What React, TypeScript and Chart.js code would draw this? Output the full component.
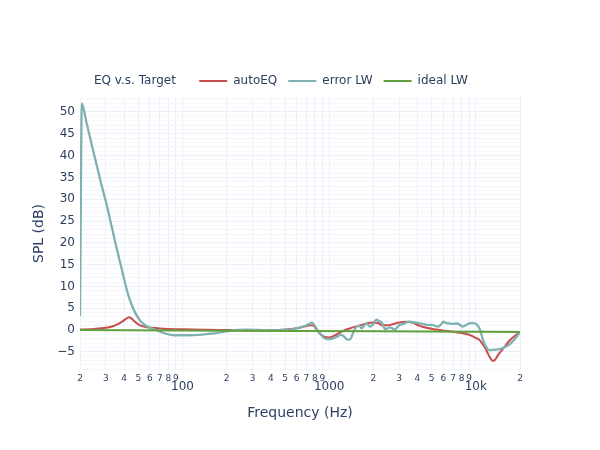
import React, { useEffect, useRef } from 'react';
import { Chart, registerables } from 'chart.js';

Chart.register(...registerables);

// ---- data ----
const AUTOEQ_FREQ = [20, 25, 30, 33, 36, 39, 41, 43.3, 45, 47, 50, 53, 57, 62, 70, 80, 100, 150, 200, 300, 400, 500, 600, 680, 740, 780, 820, 870, 920, 1000, 1100, 1200, 1300, 1450, 1600, 1800, 2000, 2150, 2300, 2500, 2700, 3000, 3300, 3700, 4100, 4600, 5400, 6200, 7000, 8000, 9000, 10000, 10500, 11000, 11600, 12200, 12700, 13100, 13600, 14200, 15400, 17000, 18500, 20000];
const AUTOEQ_DB = [0.1, 0.25, 0.5, 0.8, 1.3, 2.0, 2.5, 2.9, 2.6, 2.0, 1.3, 0.9, 0.65, 0.5, 0.35, 0.25, 0.15, 0.05, 0.0, -0.1, -0.1, 0.1, 0.4, 0.8, 1.1, 1.0, 0.1, -0.9, -1.5, -1.7, -1.2, -0.5, 0.1, 0.6, 1.0, 1.5, 1.7, 1.6, 1.1, 1.1, 1.3, 1.7, 1.9, 1.7, 1.0, 0.5, 0.1, -0.2, -0.4, -0.7, -1.1, -1.8, -2.2, -3.0, -4.2, -5.7, -6.7, -7.1, -6.7, -5.7, -4.2, -2.4, -1.3, -0.5];

const ERROR_FREQ = [20, 20.6, 22, 24, 26, 28, 30, 33, 36, 39, 42, 45, 48, 51, 55, 60, 66, 72, 78, 85, 95, 110, 130, 150, 170, 200, 240, 280, 330, 400, 470, 550, 620, 680, 730, 760, 790, 830, 870, 920, 980, 1060, 1150, 1210, 1270, 1340, 1400, 1460, 1540, 1600, 1660, 1730, 1800, 1900, 2000, 2100, 2200, 2300, 2400, 2500, 2600, 2800, 3000, 3200, 3500, 3900, 4300, 4600, 5100, 5500, 5800, 6000, 6300, 6600, 7000, 7400, 7800, 8100, 8500, 9000, 9500, 9900, 10300, 10700, 11200, 11800, 12300, 13500, 14500, 15500, 17000, 18500, 20000];
const ERROR_DB = [3.2, 52.0, 48.0, 42.6, 37.8, 33.3, 29.5, 23.5, 18.0, 13.2, 8.8, 5.8, 3.7, 2.3, 1.2, 0.5, 0.0, -0.5, -0.9, -1.15, -1.2, -1.2, -1.1, -0.9, -0.7, -0.3, 0.0, 0.1, 0.0, -0.1, 0.0, 0.1, 0.5, 0.9, 1.4, 1.7, 1.2, 0.0, -0.9, -1.8, -2.1, -1.9, -1.4, -1.1, -1.6, -2.2, -2.0, -0.5, 0.8, 1.0, 0.4, 1.0, 1.5, 0.8, 1.4, 2.4, 2.0, 1.6, 0.2, 0.4, 0.6, 0.1, 1.1, 1.4, 1.9, 1.7, 1.4, 1.2, 1.1, 0.8, 1.3, 1.9, 1.6, 1.5, 1.4, 1.5, 1.2, 0.8, 1.1, 1.5, 1.6, 1.5, 1.0, 0.0, -2.3, -4.0, -4.6, -4.5, -4.4, -4.0, -3.3, -2.0, -0.5];

const IDEAL_FREQ = [20, 200, 2000, 20000];
const IDEAL_DB = [0, -0.15, -0.3, -0.45];

const X_TICKS = [20, 30, 40, 50, 60, 70, 80, 90, 100, 200, 300, 400, 500, 600, 700, 800, 900, 1000, 2000, 3000, 4000, 5000, 6000, 7000, 8000, 9000, 10000, 20000];
const X_TICK_LABELS = ['2', '3', '4', '5', '6', '7', '8', '9', '100', '2', '3', '4', '5', '6', '7', '8', '9', '1000', '2', '3', '4', '5', '6', '7', '8', '9', '10k', '2'];
const X_DECADES = [100, 1000, 10000];
const Y_TICK_LABELS = [-5, 0, 5, 10, 15, 20, 25, 30, 35, 40, 45, 50];

const LEGEND_TITLE = 'EQ v.s. Target';
const SERIES_NAMES = ['autoEQ', 'error LW', 'ideal LW'];
const SERIES_COLORS = ['#c94c4c', '#80b1b1', '#62a03e'];

const X_TITLE = 'Frequency (Hz)';
const Y_TITLE = 'SPL (dB)';

export default function App() {
  const ref = useRef<HTMLCanvasElement>(null);

  useEffect(() => {
    const FONT = "'DejaVu Sans', Verdana, sans-serif";
    const TXT = '#2a3f5f';
    const pts = (f: number[], d: number[]) => f.map((x, i) => ({ x, y: d[i] }));
    const yGrid: number[] = [];
    for (let v = -9; v <= 53; v++) yGrid.push(v);

    const chart = new Chart(ref.current as HTMLCanvasElement, {
      type: 'line',
      data: {
        datasets: [
          { label: SERIES_NAMES[0], data: pts(AUTOEQ_FREQ, AUTOEQ_DB), borderColor: SERIES_COLORS[0], backgroundColor: SERIES_COLORS[0], order: 2, cubicInterpolationMode: 'monotone' },
          { label: SERIES_NAMES[1], data: pts(ERROR_FREQ, ERROR_DB), borderColor: SERIES_COLORS[1], backgroundColor: SERIES_COLORS[1], order: 1, cubicInterpolationMode: 'monotone', borderWidth: 2.3 },
          { label: SERIES_NAMES[2], data: pts(IDEAL_FREQ, IDEAL_DB), borderColor: SERIES_COLORS[2], backgroundColor: SERIES_COLORS[2], order: 0 },
        ],
      } as any,
      options: {
        animation: false,
        responsive: false,
        layout: { padding: { left: 49, right: 80, top: 64, bottom: 0 } },
        elements: { point: { radius: 0 }, line: { borderWidth: 2, tension: 0 } },
        plugins: {
          tooltip: { enabled: false },
          legend: {
            display: true,
            position: 'top',
            align: 'start',
            onClick: () => {},
            labels: {
              boxWidth: 28,
              boxHeight: 2,
              padding: 11,
              color: TXT,
              font: { family: FONT, size: 12 },
              generateLabels: () => [
                { text: LEGEND_TITLE + '  \u2009\u2009', fillStyle: 'rgba(0,0,0,0)', strokeStyle: 'rgba(0,0,0,0)', fontColor: TXT, lineWidth: 0, hidden: false, datasetIndex: -1 },
                ...SERIES_NAMES.map((n, i) => ({ text: n, fillStyle: SERIES_COLORS[i], strokeStyle: SERIES_COLORS[i], fontColor: TXT, lineWidth: 0, hidden: false, datasetIndex: i })),
              ],
            },
          },
        },
        scales: {
          x: {
            type: 'logarithmic',
            min: 20,
            max: 20000,
            afterBuildTicks: (s: any) => { s.ticks = X_TICKS.map((v) => ({ value: v })); },
            afterFit: (s: any) => { s.height = 80; },
            grid: { color: '#ebf0f8', drawTicks: false, lineWidth: 1 },
            border: { display: false },
            ticks: {
              autoSkip: false,
              maxRotation: 0,
              minRotation: 0,
              padding: 3,
              color: TXT,
              callback: (v: any) => { const i = X_TICKS.indexOf(Number(v)); return i >= 0 ? X_TICK_LABELS[i] : ''; },
              font: (c: any) => {
                const v = c.tick ? c.tick.value : 0;
                return X_DECADES.includes(v)
                  ? { family: FONT, size: 12, lineHeight: 2.3 }
                  : { family: FONT, size: 9, lineHeight: 1.2 };
              },
            },
            title: { display: true, text: X_TITLE, color: TXT, font: { family: FONT, size: 14 }, padding: { top: 0, bottom: 28 } },
          },
          y: {
            type: 'linear',
            min: -9.17,
            max: 53.44,
            afterBuildTicks: (s: any) => { s.ticks = yGrid.map((v) => ({ value: v })); },
            afterFit: (s: any) => { s.width = 31; },
            grid: {
              drawTicks: false,
              color: (c: any) => (c.tick && c.tick.value % 5 === 0 ? '#ebf0f8' : '#f3f6fa'),
              lineWidth: 1,
            },
            border: { display: false },
            ticks: {
              autoSkip: false,
              padding: 5,
              color: TXT,
              font: { family: FONT, size: 12 },
              callback: (v: any) => (Y_TICK_LABELS.includes(Number(v)) ? (Number(v) < 0 ? '\u2212' + Math.abs(Number(v)) : String(v)) : ''),
            },
            title: { display: true, text: Y_TITLE, color: TXT, font: { family: FONT, size: 14 }, padding: { top: -18, bottom: 0 } },
          },
        },
      } as any,
    });
    return () => chart.destroy();
  }, []);

  return (
    <div style={{ position: 'fixed', left: 0, top: 0, width: 600, height: 450, background: '#fff' }}>
      <canvas ref={ref} width={600} height={450} style={{ display: 'block' }} />
    </div>
  );
}
